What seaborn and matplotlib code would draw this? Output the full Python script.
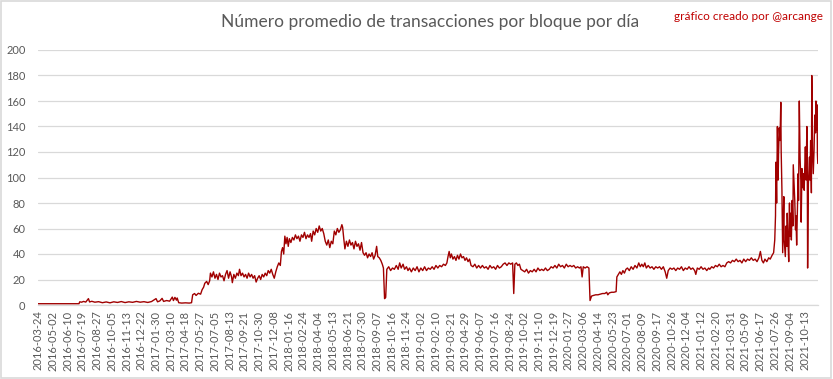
import matplotlib
matplotlib.use("Agg")
import matplotlib.pyplot as plt
from matplotlib.patches import Rectangle
import seaborn as sns
import pandas as pd

# ---- data (day index from 2016-03-24, average transactions per block) ----
days = [
    0, 30, 60, 90, 108,
    110, 115, 120, 126, 133, 136, 142, 150, 160, 170, 180, 190, 200, 210, 220, 230,
    240, 250, 260, 270, 280, 290, 300, 312, 316, 322, 328, 332, 340, 348, 355, 358,
    362, 366, 368, 372, 380, 390, 400, 406, 409, 414, 418, 424, 430, 434, 438, 441,
    446, 450, 454, 456,
    460, 464, 468, 472, 476, 480, 484, 488, 492, 496, 500, 504, 508, 512, 514, 518,
    522, 526, 530, 533, 537, 541, 545, 549, 553, 557, 561, 565, 569, 573, 577, 581,
    585, 589, 593, 597, 601, 605, 609, 613, 617,
    621, 625, 629, 633, 637, 641, 644, 647, 650, 653, 656, 659, 662, 665, 669, 673,
    677, 681, 685, 689, 693, 697, 701, 705, 709, 713, 717, 721, 724, 728, 732, 736,
    740, 744, 748, 752, 756, 760, 764, 768, 772, 776, 780, 784, 788, 792, 796, 800,
    804, 806, 809, 812, 816, 820, 824, 828, 832, 836, 840, 844, 848, 852, 856, 860,
    864, 868, 872, 876, 880, 884, 888, 892, 896, 899, 903, 907, 911, 914, 917, 920,
    923, 928, 933, 938, 943, 948, 953, 957, 961, 966, 970, 975, 979, 983, 988, 993,
    998, 1003, 1008, 1013, 1018, 1023, 1028, 1033, 1038, 1043, 1048, 1053, 1058,
    1063, 1068, 1073, 1078, 1082, 1085, 1088, 1091, 1094, 1098, 1102, 1106, 1110,
    1114, 1118, 1122, 1126, 1130, 1134, 1138, 1142, 1146, 1151, 1156, 1161, 1166,
    1171, 1176, 1181, 1186, 1191, 1196, 1201, 1206, 1211, 1216, 1221, 1226, 1231,
    1236, 1241, 1246, 1251, 1256, 1259, 1262, 1266, 1270, 1274, 1278, 1283, 1288,
    1293, 1298, 1303, 1308, 1313, 1318, 1323, 1328, 1333, 1338, 1343, 1348, 1353,
    1358, 1363, 1368, 1373, 1378, 1383, 1388, 1393, 1398, 1403, 1408, 1413, 1418,
    1423, 1428, 1433, 1437, 1440, 1443, 1448, 1453, 1458, 1461, 1465, 1470, 1476,
    1482, 1488, 1494, 1500, 1505, 1508, 1512, 1518, 1524, 1530, 1532, 1536, 1540,
    1544, 1548, 1552, 1556, 1560, 1565, 1570, 1575, 1580, 1585, 1590, 1594, 1598,
    1602, 1606, 1610, 1615, 1620, 1625, 1630, 1635, 1640, 1645, 1650, 1655, 1660,
    1664, 1668, 1673, 1678, 1683, 1688, 1693, 1698, 1703, 1708, 1713, 1718, 1723,
    1728, 1733, 1738, 1741, 1745, 1750, 1755, 1760, 1765, 1770, 1775, 1778,
    1783, 1788, 1793, 1798, 1803, 1808, 1813, 1818, 1823, 1828, 1833, 1838, 1843,
    1848, 1853, 1858, 1863, 1868, 1873, 1878, 1883, 1888, 1893, 1898, 1903, 1908,
    1912, 1916, 1920, 1924,
    1929, 1934, 1938, 1943, 1947, 1950, 1952, 1953, 1955, 1957, 1959, 1960, 1962,
    1964, 1966, 1967, 1969, 1971, 1974, 1975, 1978, 1980, 1982, 1983, 1985, 1987,
    1989, 1990, 1992, 1994, 1996, 1998, 1999, 2001, 2003, 2005, 2006, 2008, 2010,
    2012, 2013, 2015, 2017, 2019, 2020, 2022, 2024, 2026, 2028, 2029, 2031, 2033,
    2035, 2036, 2037, 2039, 2042, 2043, 2045, 2047, 2048, 2050, 2052, 2054, 2056,
    2058, 2059, 2061, 2062, 2063, 2064,
]
values = [
    1.0, 1.0, 1.0, 1.0, 1.0,
    2.5, 2.2, 2.8, 2.3, 5.0, 2.4, 2.9, 2.2, 2.6, 1.8, 2.4, 1.7, 2.5, 2.0, 2.7, 1.9,
    2.5, 2.1, 2.8, 2.2, 2.6, 2.0, 2.7, 5.0, 2.5, 3.2, 5.2, 2.8, 3.5, 3.0, 6.2, 3.5,
    6.0, 3.8, 5.5, 1.8, 1.5, 1.7, 1.5, 1.8, 8.0, 9.0, 7.5, 9.2, 8.5, 12.0, 14.0, 17.0,
    18.5, 16.0, 19.0, 25.0,
    22, 26, 21, 24, 20, 25, 22, 23, 19, 24, 27, 21, 26, 22, 17.5, 24,
    21, 25, 23, 28, 23, 25, 22, 24, 21, 25, 22, 24, 21, 23, 18, 21,
    23, 20, 24, 22, 25, 23, 27, 25, 28,
    24, 21, 26, 30, 33, 31, 42, 45, 40, 54, 48, 53, 46, 52, 49, 53,
    51, 55, 52, 54, 50, 55, 53, 57, 52, 55, 53, 56, 50, 58, 55, 60,
    57, 62, 58, 60, 56, 50, 47, 51, 45, 50, 48, 58, 55, 60, 57, 59,
    63, 61, 52, 44, 50, 46, 51, 47, 49, 44, 50, 46, 48, 43, 49, 41,
    39, 41, 37, 40, 38, 41, 36, 39, 46, 38, 37, 35, 32, 29, 5, 6,
    28, 30, 27, 29, 28, 31, 28, 33, 29, 32, 28, 30, 27, 29, 26, 29,
    27, 30, 26, 29, 27, 30, 27, 29, 28, 30, 28, 31, 29,
    31, 30, 32, 31, 33, 38, 42, 37, 40, 36, 38, 35, 39,
    36, 40, 37, 38, 35, 37, 34, 36, 31, 30, 32, 29, 31,
    29, 31, 29, 30, 28, 31, 29, 30, 28, 31, 29, 30, 32,
    33, 31, 33, 32, 33, 9, 32, 33, 31, 32, 28, 27, 26,
    28, 25, 27, 26, 28, 26, 29, 27, 28, 27, 29, 27, 28,
    30, 29, 31, 29, 32, 30, 31, 29, 32, 30, 31, 30, 31,
    29, 30, 29, 30, 22, 30, 29, 30, 29, 3.5, 7, 7.5, 8,
    8, 8.5, 9, 9, 10, 8, 9.5, 10, 10, 10.5, 22, 24, 26,
    24, 27, 25, 28, 29, 27, 30, 28, 31, 29, 33, 30, 32,
    30, 33, 29, 31, 29, 30, 28, 30, 29, 30, 28, 30, 26,
    21, 27, 29, 28, 29, 27, 29, 28, 30, 27, 29, 28, 30,
    28, 29, 27, 24, 29, 28, 30, 28, 29, 27, 29, 28,
    30, 29, 31, 30, 32, 30, 31, 30, 33, 34, 33, 35, 34,
    36, 34, 35, 33, 36, 34, 36, 35, 37, 35, 36, 34, 37,
    42, 35, 33, 36,
    34, 37, 36, 39, 41, 51, 70, 112, 80, 140, 98, 118, 139,
    129, 159, 121, 90, 41, 85, 51, 38, 62, 46, 72, 51, 34,
    80, 54, 72, 51, 82, 62, 110, 95, 82, 59, 70, 47, 75,
    103, 82, 160, 116, 98, 65, 107, 92, 103, 90, 103, 124, 98,
    140, 120, 29, 95, 116, 98, 129, 88, 180, 121, 103, 121, 149,
    135, 160, 137, 157, 118, 111,
]

tick_labels = [
    "2016-03-24", "2016-05-02", "2016-06-10", "2016-07-19", "2016-08-27",
    "2016-10-05", "2016-11-13", "2016-12-22", "2017-01-30", "2017-03-10",
    "2017-04-18", "2017-05-27", "2017-07-05", "2017-08-13", "2017-09-21",
    "2017-10-30", "2017-12-08", "2018-01-16", "2018-02-24", "2018-04-04",
    "2018-05-13", "2018-06-21", "2018-07-30", "2018-09-07", "2018-10-16",
    "2018-11-24", "2019-01-02", "2019-02-10", "2019-03-21", "2019-04-29",
    "2019-06-07", "2019-07-16", "2019-08-24", "2019-10-02", "2019-11-10",
    "2019-12-19", "2020-01-27", "2020-03-06", "2020-04-14", "2020-05-23",
    "2020-07-01", "2020-08-09", "2020-09-17", "2020-10-26", "2020-12-04",
    "2021-01-12", "2021-02-20", "2021-03-31", "2021-05-09", "2021-06-17",
    "2021-07-26", "2021-09-04", "2021-10-13",
]
start_date = pd.Timestamp("2016-03-24")
n_days = 2065

title = "Número promedio de transacciones por bloque por día"
credit = "gráfico creado por @arcange"

# ---- figure ----
sns.set_theme(style="white")
plt.rcParams["font.family"] = ["Lato", "DejaVu Sans"]

df = pd.DataFrame({"day": days, "value": values})

fig = plt.figure(figsize=(8.33, 3.79), dpi=100)
ax = fig.add_axes([38 / 833, 1 - 305 / 379, 780 / 833, 255 / 379])

sns.lineplot(data=df, x="day", y="value", ax=ax, color="#A00000",
             linewidth=1.0, sort=False)

ax.set_xlim(-0.5, n_days - 0.5)
ax.set_ylim(0, 200)
ax.set_yticks(range(0, 201, 20))
ax.yaxis.grid(True, color="#D9D9D9", linewidth=0.9)
ax.xaxis.grid(False)
ax.set_axisbelow(True)

tick_pos = [(pd.Timestamp(t) - start_date).days for t in tick_labels]
ax.set_xticks(tick_pos)
ax.set_xticklabels(tick_labels, rotation=90)

for s in ["top", "right", "left"]:
    ax.spines[s].set_visible(False)
ax.spines["bottom"].set_color("#D9D9D9")
ax.spines["bottom"].set_linewidth(0.9)

ax.tick_params(axis="y", length=0, pad=9, labelsize=8, labelcolor="#595959")
ax.tick_params(axis="x", length=0, pad=4, labelsize=8, labelcolor="#595959")
ax.set_xlabel("")
ax.set_ylabel("")

fig.text(430 / 833, 1 - 22 / 379, title, ha="center", va="center",
         fontsize=12.5, color="#595959")
fig.text(823 / 833, 1 - 17 / 379, credit, ha="right", va="center",
         fontsize=8.5, color="#C00000")

fig.patches.append(Rectangle((0.001, 0.002), 0.997, 0.995, transform=fig.transFigure,
                             fill=False, edgecolor="#D9D9D9", linewidth=1.2))

fig.savefig("out.png", dpi=100)
